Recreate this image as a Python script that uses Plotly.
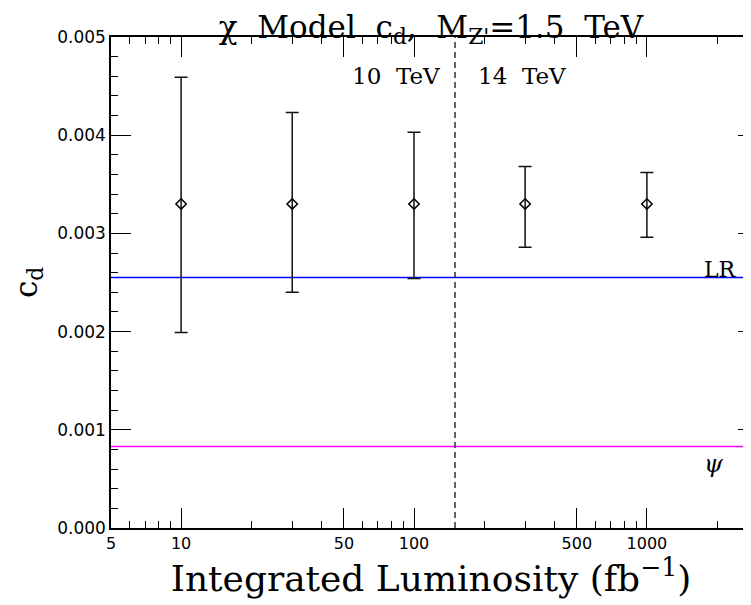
import numpy as np
import plotly.graph_objects as go

# ---- data ----
lumi = [10, 30, 100, 300, 1000]
cd_central = [0.0033, 0.0033, 0.0033, 0.0033, 0.0033]
err_plus = [0.00129, 0.00093, 0.00073, 0.00038, 0.00032]
err_minus = [0.00131, 0.00090, 0.00076, 0.00044, 0.00034]

model_names = ["LR", "ψ"]
model_values = [0.00255, 0.00083]
model_colors = ["#0000ff", "#ff00ff"]

energy_split_lumi = 150
energy_labels = ["10  TeV", "14  TeV"]

x_major_ticks = [5, 10, 50, 100, 500, 1000]
x_major_text = ["5", "10", "50", "100", "500", "1000"]
x_minor_ticks = [6, 7, 8, 9, 20, 30, 40, 60, 70, 80, 90, 200, 300, 400,
                 600, 700, 800, 900, 2000]
y_major_ticks = [0.000, 0.001, 0.002, 0.003, 0.004, 0.005]
y_major_text = ["0.000", "0.001", "0.002", "0.003", "0.004", "0.005"]
y_minor_ticks = [round(0.0002 * i, 4) for i in range(26) if i % 5 != 0]

x_range = [np.log10(5), 3.447]
y_range = [0.0, 0.005]

SERIF = "DejaVu Serif"
SANS = "DejaVu Sans"

fig = go.Figure()

# vertical dashed separator between the two collider energies
fig.add_trace(go.Scatter(
    x=[energy_split_lumi, energy_split_lumi], y=y_range, mode="lines",
    line=dict(color="black", width=1.2, dash="6px,4px"),
    showlegend=False, hoverinfo="skip",
))

fig.add_trace(go.Scatter(
    x=lumi, y=cd_central, mode="markers",
    marker=dict(symbol="diamond-open", size=8, color="black",
                line=dict(width=1.5, color="black")),
    error_y=dict(type="data", symmetric=False, array=err_plus,
                 arrayminus=err_minus, color="#111111",
                 thickness=1.5, width=6.5),
    showlegend=False, hoverinfo="skip",
))

# invisible trace to carry the right-hand tick axis
fig.add_trace(go.Scatter(
    x=lumi, y=cd_central, yaxis="y2", mode="markers",
    marker=dict(opacity=0), showlegend=False, hoverinfo="skip",
))

for name, val, col in zip(model_names, model_values, model_colors):
    fig.add_hline(y=val, line=dict(color=col, width=1.5), layer="below")

# energy labels
fig.add_annotation(x=np.log10(energy_split_lumi), y=0.0046, xref="x", yref="y",
                   text=energy_labels[0], showarrow=False, xanchor="right",
                   yanchor="middle", xshift=-13,
                   font=dict(family=SERIF, size=23, color="black"))
fig.add_annotation(x=np.log10(energy_split_lumi), y=0.0046, xref="x", yref="y",
                   text=energy_labels[1], showarrow=False, xanchor="left",
                   yanchor="middle", xshift=21,
                   font=dict(family=SERIF, size=23, color="black"))

# model labels
fig.add_annotation(x=1, y=model_values[0], xref="paper", yref="y",
                   text=model_names[0], showarrow=False, xanchor="right",
                   yanchor="bottom", xshift=-12, yshift=-6,
                   font=dict(family=SERIF, size=22, color="black"))
fig.add_annotation(x=1, y=model_values[1], xref="paper", yref="y",
                   text="<i>" + model_names[1] + "</i>", showarrow=False,
                   xanchor="right", yanchor="top", xshift=-25, yshift=-2,
                   font=dict(family=SERIF, size=24, color="black"))

# The page body has an 8px default margin, so the figure is 8px smaller
# and margins are offset accordingly.
fig.update_layout(
    width=743, height=597,
    margin=dict(l=103, r=0, t=29, b=77, autoexpand=False),
    paper_bgcolor="white", plot_bgcolor="white",
    showlegend=False,
    title=dict(text="χ  Model  c<sub>d</sub>,  M<sub>Z'</sub>=1.5  TeV",
               x=0.5, xref="paper", xanchor="center",
               y=1 - 19 / 597, yref="container", yanchor="middle",
               font=dict(family=SERIF, size=31, color="black")),
    xaxis=dict(
        type="log", range=x_range, automargin=False,
        tickvals=x_major_ticks, ticktext=x_major_text,
        ticks="inside", ticklen=20, tickwidth=1.2, tickcolor="black",
        minor=dict(tickvals=x_minor_ticks, ticks="inside", ticklen=7,
                   tickwidth=1.2, tickcolor="black", showgrid=False),
        showline=True, linecolor="black", linewidth=1.5, mirror="ticks",
        showgrid=False, zeroline=False,
        tickfont=dict(family=SANS, size=16, color="black"),
        title=dict(text="Integrated Luminosity (fb<sup>−1</sup>)",
                   font=dict(family=SERIF, size=36, color="black"),
                   standoff=7),
    ),
    yaxis=dict(
        range=y_range, automargin=False,
        tickvals=y_major_ticks, ticktext=y_major_text,
        ticks="inside", ticklen=20, tickwidth=1.2, tickcolor="black",
        minor=dict(tickvals=y_minor_ticks, ticks="inside", ticklen=7,
                   tickwidth=1.2, tickcolor="black", showgrid=False),
        showline=True, linecolor="black", linewidth=1.5, mirror=False,
        showgrid=False, zeroline=False,
        tickfont=dict(family=SANS, size=17, color="black"),
        title=dict(text="c<sub>d</sub>",
                   font=dict(family=SERIF, size=31, color="black"),
                   standoff=28),
    ),
    yaxis2=dict(
        overlaying="y", side="right", range=y_range, automargin=False,
        tickvals=y_major_ticks, showticklabels=False,
        ticks="inside", ticklen=13, tickwidth=1.2, tickcolor="black",
        showline=False, showgrid=False, zeroline=False,
    ),
)

fig.write_html("out.html")
